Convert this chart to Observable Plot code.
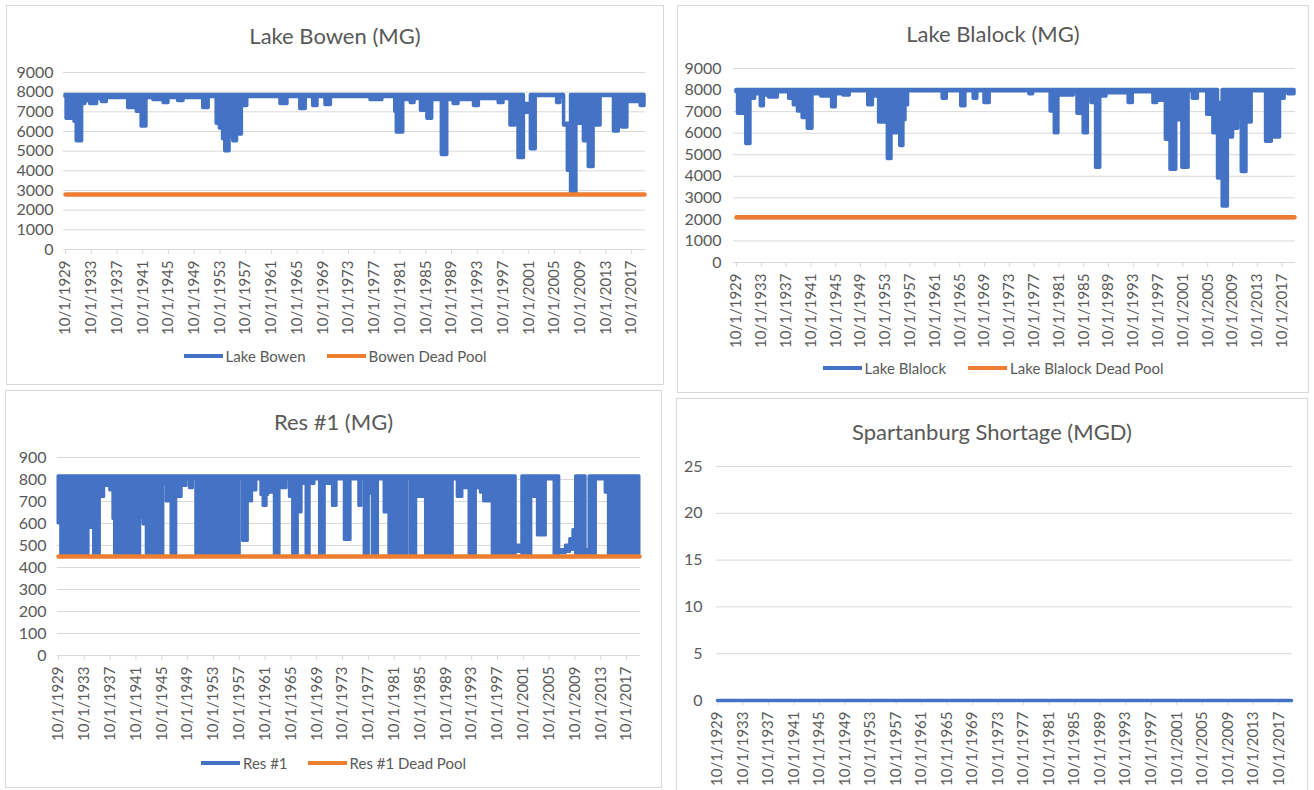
<!DOCTYPE html>
<html><head><meta charset="utf-8">
<script src="https://cdn.jsdelivr.net/npm/d3@7"></script>
<script src="https://cdn.jsdelivr.net/npm/@observablehq/plot@0.6"></script>
<style>
body{margin:0;background:#fff;font-family:Lato,sans-serif;}
#page{position:relative;width:1314px;height:790px;overflow:hidden;background:#fff;}
.panel{position:absolute;border:1px solid #d9d9d9;box-sizing:border-box;}
.title{position:absolute;text-align:center;color:#595959;font-size:22px;line-height:24px;white-space:nowrap;}
.legend{position:absolute;display:flex;justify-content:center;align-items:center;font-size:15px;line-height:18px;color:#595959;white-space:nowrap;}
.item{display:flex;align-items:center;}
.sw{display:inline-block;width:39px;height:4px;margin-right:3px;}
svg{position:absolute;overflow:visible;}
</style></head>
<body><div id="page"></div>
<script>
// ---------- DATA ----------
const tickLabels = ["10/1/1929","10/1/1933","10/1/1937","10/1/1941","10/1/1945","10/1/1949","10/1/1953","10/1/1957","10/1/1961","10/1/1965","10/1/1969","10/1/1973","10/1/1977","10/1/1981","10/1/1985","10/1/1989","10/1/1993","10/1/1997","10/1/2001","10/1/2005","10/1/2009","10/1/2013","10/1/2017"];
const lakeTicks = [0,1000,2000,3000,4000,5000,6000,7000,8000,9000];
const resTicks = [0,100,200,300,400,500,600,700,800,900];
const shortTicks = [0,5,10,15,20,25];

// storage steps: [month, low of the month-range, high of the month-range]
const bowen = [
["1929-10",7750,7850],["1929-12",6650,7850],["1931-03",6500,7850],["1931-07",5500,7850],["1932-05",7400,7850],
["1932-11",7550,7850],["1933-08",7400,7850],["1934-09",7650,7850],["1935-06",7500,7850],["1936-03",7700,7850],
["1939-07",7200,7850],["1940-11",7000,7850],["1941-08",6250,7850],["1942-05",7700,7850],["1943-06",7600,7850],
["1945-01",7450,7850],["1945-10",7700,7850],["1947-04",7550,7850],["1948-02",7700,7850],["1951-03",7200,7850],
["1952-01",7750,7850],["1953-04",6400,7850],["1953-10",6150,7850],["1954-04",5600,7850],["1954-08",5000,7850],
["1955-04",5750,7850],["1955-11",5500,7850],["1956-06",5850,7850],["1957-03",7300,7850],["1958-01",7750,7850],
["1963-03",7400,7850],["1964-04",7750,7850],["1966-04",7150,7850],["1967-02",7750,7850],["1968-04",7300,7850],
["1968-12",7750,7850],["1970-03",7350,7850],["1971-01",7750,7850],["1977-03",7600,7850],["1979-01",7750,7850],
["1981-01",7000,7850],["1981-04",5950,7850],["1982-04",7600,7850],["1983-06",7450,7850],["1984-01",7650,7850],
["1985-01",7050,7850],["1986-01",6650,7850],["1986-10",7600,7850],["1988-04",4800,7850],["1989-02",7600,7850],
["1990-02",7400,7850],["1990-11",7600,7850],["1993-04",7300,7850],["1994-01",7650,7850],["1997-02",7450,7850],
["1997-11",7650,7850],["1998-12",6300,7850],["1999-09",7000,7850],["2000-03",4650,7850],["2001-01",6950,7400],
["2002-02",5100,7850],["2002-11",7800,7850],["2006-03",7450,7850],["2006-09",7750,7850],["2007-04",6300,6400],
["2007-11",4000,6400],["2008-05",2900,7850],["2009-03",6400,7850],["2010-05",5500,7850],["2011-02",4200,7850],
["2011-11",6300,7850],["2012-12",7800,7850],["2015-01",6000,7850],["2015-10",7600,7850],["2016-04",6200,7850],
["2017-02",7500,7850],["2019-03",7300,7850],["2019-10",7300,7850]
];
const bowenDeadPool = [["1929-10",2800],["2019-10",2800]];

const blalock = [
["1929-10",7900,8000],["1930-01",6900,8000],["1931-05",5500,8000],["1932-01",7600,8000],["1932-10",7800,8000],
["1933-09",7250,8000],["1934-03",7750,8000],["1935-01",7650,8000],["1936-06",7900,8000],["1938-04",7600,8000],
["1939-01",7300,8000],["1939-09",7000,8000],["1940-06",6700,8000],["1941-04",6200,8000],["1942-01",7800,8000],
["1943-06",7700,8000],["1945-03",7200,8000],["1945-10",7800,8000],["1947-01",7750,8000],["1948-01",7950,8000],
["1951-01",7300,8000],["1951-10",7700,8000],["1952-10",6500,8000],["1954-03",4800,8000],["1954-10",6000,8000],
["1956-03",5400,8000],["1956-09",6600,8000],["1957-01",7300,8000],["1957-06",7950,8000],["1963-01",7600,8000],
["1963-09",7950,8000],["1966-01",7250,8000],["1966-09",7950,8000],["1968-01",7600,8000],["1968-08",7950,8000],
["1969-10",7400,8000],["1970-08",7950,8000],["1977-01",7800,8000],["1977-08",7950,8000],["1980-06",7000,8000],
["1981-02",6000,8000],["1981-09",7750,8000],["1984-03",7900,8000],["1984-10",6900,8000],["1985-10",6000,8000],
["1986-06",7750,8000],["1987-01",7400,8000],["1987-10",4400,8000],["1988-06",7700,8000],["1989-06",7850,8000],
["1993-01",7400,8000],["1993-09",7900,8000],["1997-01",7400,8000],["1997-08",7500,8000],["1999-01",5700,8000],
["1999-10",4300,8000],["2000-09",6600,8000],["2001-09",4400,8000],["2002-09",7950,8000],["2003-05",7600,8000],
["2004-03",7950,8000],["2005-09",6850,8000],["2006-09",6000,8000],["2007-06",3900,7400],["2008-03",2600,8000],
["2009-01",5800,8000],["2009-11",6200,8000],["2010-09",6700,8000],["2011-04",4200,8000],["2012-01",6500,8000],
["2012-11",7950,8000],["2015-03",5600,8000],["2016-02",5800,8000],["2017-06",7600,8000],["2018-03",7950,8000],
["2018-10",7800,8000],["2019-10",7800,8000]
];
const blalockDeadPool = [["1929-10",2100],["2019-10",2100]];

const res1 = [
["1929-10",600,815],["1930-03",460,815],["1932-02",550,815],["1932-06",460,815],["1933-02",700,815],
["1933-06",460,815],["1934-06",580,815],["1934-12",690,815],["1935-04",460,815],["1936-03",720,815],
["1936-11",770,815],["1937-10",750,815],["1938-04",620,815],["1938-07",460,815],["1942-06",625,815],
["1942-12",595,815],["1943-06",460,815],["1946-01",780,815],["1946-07",700,815],["1947-04",460,815],
["1948-01",720,815],["1948-11",770,815],["1949-08",800,815],["1950-02",760,815],["1950-08",800,815],
["1951-02",460,815],["1951-12",650,815],["1952-04",460,815],["1957-11",800,815],["1958-05",520,815],
["1959-02",700,815],["1959-10",750,815],["1960-06",800,815],["1961-03",730,815],["1961-07",680,815],
["1962-01",730,815],["1962-04",740,815],["1963-04",460,815],["1964-01",760,815],["1965-02",800,815],
["1965-08",720,815],["1966-02",460,815],["1966-11",650,815],["1967-06",780,815],["1968-03",460,815],
["1968-09",780,815],["1969-06",800,815],["1970-04",460,815],["1971-01",780,815],["1972-04",680,815],
["1972-11",800,815],["1974-02",525,815],["1975-01",800,815],["1976-05",680,815],["1976-09",800,815],
["1977-03",460,815],["1977-11",735,815],["1978-06",460,815],["1979-04",800,815],["1980-04",650,815],
["1981-01",460,815],["1983-11",800,815],["1984-05",460,815],["1985-03",720,815],["1986-09",460,815],
["1990-11",800,815],["1991-08",720,815],["1992-05",760,815],["1993-06",460,815],["1994-06",760,815],
["1995-03",740,815],["1995-09",700,815],["1997-01",460,815],["2000-08",470,500],["2001-08",460,815],
["2003-01",800,815],["2003-06",720,815],["2003-09",800,815],["2004-01",545,815],["2005-04",800,815],
["2006-08",460,815],["2007-05",465,480],["2008-05",470,500],["2009-01",480,530],["2009-07",500,570],
["2009-12",460,815],["2011-06",465,480],["2012-01",460,815],["2013-01",800,815],["2014-07",740,815],
["2015-01",460,815],["2016-07",800,815],["2016-10",460,815],["2018-05",620,815],["2018-08",460,815],
["2019-10",460,815]
];
const res1DeadPool = [["1929-10",450],["2019-10",450]];

const shortage = [["1929-10",0],["2019-10",0]];

// ---------- DRAWING ----------
const blue = "#4472C4", orange = "#ED7D31", gridColor = "#D9D9D9", textColor = "#595959";
const pm = d3.utcParse("%Y-%m");
const pt = d3.utcParse("%m/%d/%Y");
const tickDates = tickLabels.map(pt);
const xDomain = [pm("1929-10"), pm("2019-10")];
const page = document.getElementById("page");

const steps = arr => arr.map(([d, lo, hi]) => ({date: pm(d), lo, hi}));
const pts = arr => arr.map(([d, v]) => ({date: pm(d), v}));

function addBox(l, t, r, b) {
  const d = document.createElement("div");
  d.className = "panel";
  Object.assign(d.style, {left: l+"px", top: t+"px", width: (r-l)+"px", height: (b-t)+"px"});
  page.appendChild(d);
}
function addTitle(txt, l, r, cy) {
  const d = document.createElement("div");
  d.className = "title"; d.textContent = txt;
  Object.assign(d.style, {left: l+"px", width: (r-l)+"px", top: (cy-12)+"px"});
  page.appendChild(d);
}
function addLegend(items, l, r, cy, gap) {
  const d = document.createElement("div");
  d.className = "legend";
  Object.assign(d.style, {left: l+"px", width: (r-l)+"px", top: (cy-9)+"px", gap: gap+"px"});
  for (const [label, color] of items) {
    const it = document.createElement("span"); it.className = "item";
    const sw = document.createElement("span"); sw.className = "sw"; sw.style.background = color;
    it.appendChild(sw); it.appendChild(document.createTextNode(label));
    d.appendChild(it);
  }
  page.appendChild(d);
}

function chart(c) {
  const W = c.right - c.left, H = c.bottom - c.top;
  const svg = Plot.plot({
    width: W, height: H,
    marginLeft: c.gridL - c.left, marginRight: c.right - c.gridR,
    marginTop: c.yTop - c.top, marginBottom: c.bottom - c.y0,
    x: {type: "utc", domain: xDomain, insetLeft: c.insetL, insetRight: 1, label: null},
    y: {domain: c.yDomain, label: null},
    style: {fontFamily: "Lato, sans-serif", fontSize: "15px", color: textColor, background: "transparent", overflow: "visible"},
    marks: [
      Plot.gridY(c.yTicks, {stroke: gridColor, strokeOpacity: 1, strokeWidth: 1}),
      Plot.axisY(c.yTicks, {tickSize: 0, tickPadding: c.yPad, tickFormat: d => String(d), fill: textColor, fontSize: 16, label: null}),
      Plot.ruleY([0], {stroke: gridColor, strokeWidth: 1}),
      Plot.axisX(tickDates, {tickRotate: -90, tickSize: 5, tickPadding: c.xPad, stroke: gridColor, tickFormat: d3.utcFormat("%-m/%-d/%Y"), fill: textColor, fontSize: 15, label: null}),
      ...c.marks
    ]
  });
  svg.style.left = c.left + "px";
  svg.style.top = c.top + "px";
  page.appendChild(svg);
}

// Panel 1: Lake Bowen
addBox(6, 5, 664, 385);
addTitle("Lake Bowen (MG)", 6, 664, 36);
chart({left: 6, top: 5, right: 664, bottom: 380, gridL: 63, gridR: 645, yTop: 72, y0: 249, insetL: 2,
  yDomain: [0, 9000], yTicks: lakeTicks, yPad: 10, xPad: 6,
  marks: [
    Plot.areaY(steps(bowen), {x: "date", y1: "lo", y2: "hi", curve: "step-after", fill: blue, stroke: blue, strokeWidth: 3.5}),
    Plot.lineY(pts(bowenDeadPool), {x: "date", y: "v", stroke: orange, strokeWidth: 4.5})
  ]});
addLegend([["Lake Bowen", blue], ["Bowen Dead Pool", orange]], 6, 664, 356, 21);

// Panel 2: Lake Blalock
addBox(677, 5, 1309, 393);
addTitle("Lake Blalock (MG)", 677, 1309, 34);
chart({left: 677, top: 5, right: 1309, bottom: 388, gridL: 733, gridR: 1295, yTop: 68, y0: 262, insetL: 3,
  yDomain: [0, 9000], yTicks: lakeTicks, yPad: 12, xPad: 6,
  marks: [
    Plot.areaY(steps(blalock), {x: "date", y1: "lo", y2: "hi", curve: "step-after", fill: blue, stroke: blue, strokeWidth: 3.5}),
    Plot.lineY(pts(blalockDeadPool), {x: "date", y: "v", stroke: orange, strokeWidth: 4.5})
  ]});
addLegend([["Lake Blalock", blue], ["Lake Blalock Dead Pool", orange]], 677, 1309, 368, 22);

// Panel 3: Res #1
addBox(5, 390, 662, 788);
addTitle("Res #1 (MG)", 5, 662, 422);
chart({left: 5, top: 390, right: 662, bottom: 785, gridL: 57, gridR: 640, yTop: 457, y0: 655, insetL: 1,
  yDomain: [0, 900], yTicks: resTicks, yPad: 11, xPad: 6,
  marks: [
    Plot.areaY(steps(res1), {x: "date", y1: "lo", y2: "hi", curve: "step-after", fill: blue, stroke: blue, strokeWidth: 3}),
    Plot.lineY(pts(res1DeadPool), {x: "date", y: "v", stroke: orange, strokeWidth: 4.5})
  ]});
addLegend([["Res #1", blue], ["Res #1 Dead Pool", orange]], 5, 662, 763, 20);

// Panel 4: Spartanburg Shortage
addBox(676, 398, 1308, 792);
addTitle("Spartanburg Shortage (MGD)", 676, 1308, 432);
chart({left: 676, top: 398, right: 1308, bottom: 790, gridL: 716, gridR: 1292, yTop: 466, y0: 700, insetL: 1,
  yDomain: [0, 25], yTicks: shortTicks, yPad: 14, xPad: 6,
  marks: [
    Plot.lineY(pts(shortage), {x: "date", y: "v", stroke: blue, strokeWidth: 3.5})
  ]});
</script>
</body></html>
